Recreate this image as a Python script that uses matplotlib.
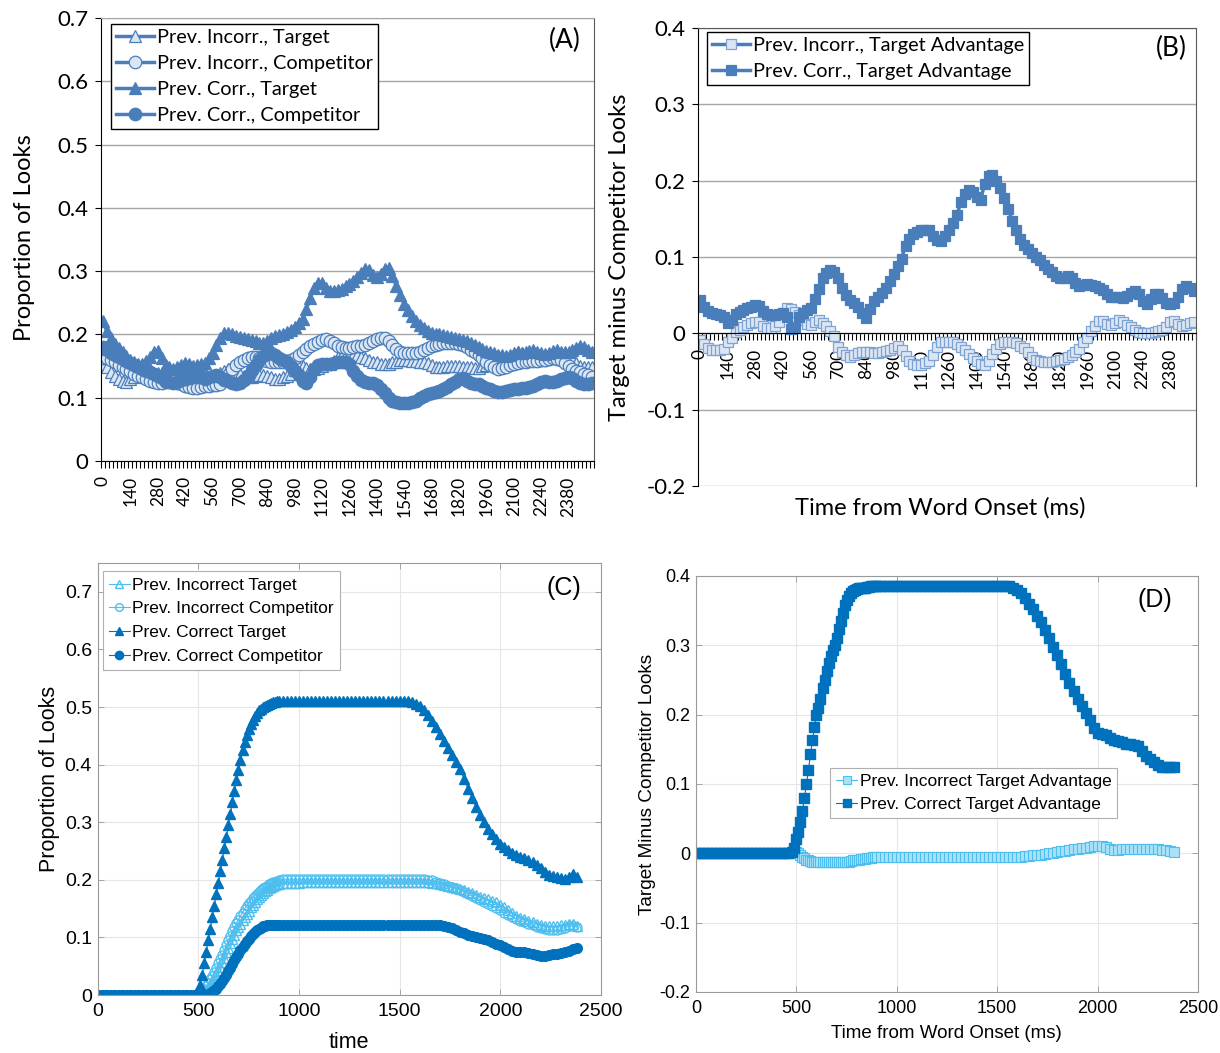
import numpy as np
import matplotlib.pyplot as plt

# ---- data -------------------------------------------------------------
# panels A/B: Excel category axis, one point every 20 ms
t_ab = np.arange(0, 2501, 20)
# panels C/D: model output (finer sampling during the rise)
t_cd = np.concatenate([np.arange(0, 480, 20), np.arange(480, 900, 10),
                       np.arange(900, 2381, 20)])

xlab_ab = list(range(0, 2381, 140))

a_inc_target = [
    0.154, 0.148, 0.141, 0.134, 0.130, 0.126, 0.125, 0.130, 0.132, 0.137,
    0.137, 0.137, 0.138, 0.138, 0.139, 0.139, 0.135, 0.133, 0.133, 0.133,
    0.137, 0.145, 0.150, 0.148, 0.144, 0.141, 0.136, 0.131, 0.131, 0.135,
    0.139, 0.142, 0.145, 0.148, 0.148, 0.138, 0.135, 0.133, 0.133, 0.135,
    0.136, 0.136, 0.134, 0.132, 0.130, 0.130, 0.132, 0.135, 0.138, 0.144,
    0.150, 0.150, 0.147, 0.145, 0.145, 0.147, 0.150, 0.153, 0.154, 0.158,
    0.164, 0.168, 0.168, 0.168, 0.168, 0.167, 0.164, 0.162, 0.159, 0.157,
    0.156, 0.154, 0.153, 0.154, 0.156, 0.157, 0.159, 0.160, 0.159, 0.158,
    0.158, 0.157, 0.157, 0.155, 0.151, 0.149, 0.149, 0.149, 0.150, 0.150,
    0.150, 0.150, 0.149, 0.149, 0.148, 0.147, 0.147, 0.150, 0.151, 0.155,
    0.158, 0.162, 0.163, 0.161, 0.163, 0.167, 0.172, 0.171, 0.168, 0.166,
    0.163, 0.160, 0.160, 0.161, 0.162, 0.164, 0.164, 0.163, 0.163, 0.165,
    0.162, 0.155, 0.150, 0.149, 0.149, 0.148]
a_inc_comp = [
    0.163, 0.162, 0.160, 0.156, 0.152, 0.148, 0.145, 0.142, 0.138, 0.135,
    0.132, 0.129, 0.127, 0.125, 0.124, 0.124, 0.125, 0.126, 0.126, 0.124,
    0.122, 0.119, 0.117, 0.116, 0.116, 0.117, 0.118, 0.119, 0.120, 0.120,
    0.122, 0.128, 0.136, 0.145, 0.152, 0.156, 0.160, 0.162, 0.164, 0.164,
    0.162, 0.160, 0.158, 0.157, 0.156, 0.156, 0.157, 0.158, 0.160, 0.163,
    0.167, 0.172, 0.177, 0.181, 0.185, 0.188, 0.191, 0.192, 0.190, 0.186,
    0.182, 0.180, 0.179, 0.179, 0.180, 0.181, 0.182, 0.184, 0.186, 0.189,
    0.192, 0.194, 0.194, 0.190, 0.183, 0.177, 0.173, 0.171, 0.170, 0.170,
    0.171, 0.173, 0.176, 0.179, 0.182, 0.184, 0.185, 0.186, 0.187, 0.187,
    0.186, 0.185, 0.183, 0.180, 0.176, 0.172, 0.167, 0.162, 0.157, 0.152,
    0.148, 0.146, 0.147, 0.149, 0.152, 0.154, 0.155, 0.156, 0.157, 0.158,
    0.158, 0.158, 0.159, 0.160, 0.161, 0.162, 0.161, 0.159, 0.155, 0.150,
    0.146, 0.143, 0.140, 0.138, 0.136, 0.133]
a_cor_target = [
    0.222, 0.205, 0.194, 0.185, 0.178, 0.173, 0.166, 0.160, 0.156, 0.153,
    0.153, 0.158, 0.165, 0.172, 0.174, 0.163, 0.151, 0.148, 0.146, 0.148,
    0.152, 0.155, 0.153, 0.150, 0.151, 0.153, 0.155, 0.162, 0.171, 0.184,
    0.195, 0.202, 0.203, 0.200, 0.198, 0.196, 0.194, 0.192, 0.191, 0.189,
    0.187, 0.187, 0.190, 0.194, 0.197, 0.199, 0.201, 0.204, 0.207, 0.212,
    0.218, 0.225, 0.240, 0.258, 0.274, 0.282, 0.282, 0.273, 0.268, 0.269,
    0.270, 0.272, 0.276, 0.280, 0.285, 0.290, 0.297, 0.304, 0.302, 0.294,
    0.290, 0.296, 0.304, 0.305, 0.293, 0.276, 0.262, 0.248, 0.238, 0.229,
    0.221, 0.215, 0.210, 0.206, 0.203, 0.201, 0.200, 0.199, 0.198, 0.196,
    0.194, 0.193, 0.191, 0.189, 0.186, 0.183, 0.180, 0.177, 0.174, 0.172,
    0.170, 0.168, 0.167, 0.166, 0.168, 0.171, 0.172, 0.171, 0.172, 0.174,
    0.175, 0.173, 0.170, 0.169, 0.171, 0.174, 0.175, 0.173, 0.172, 0.173,
    0.175, 0.178, 0.181, 0.180, 0.176, 0.172]
a_cor_comp = [
    0.180, 0.175, 0.170, 0.167, 0.164, 0.161, 0.158, 0.155, 0.152, 0.149,
    0.146, 0.143, 0.140, 0.137, 0.134, 0.131, 0.127, 0.125, 0.124, 0.125,
    0.128, 0.130, 0.131, 0.133, 0.133, 0.132, 0.130, 0.132, 0.135, 0.136,
    0.132, 0.129, 0.126, 0.123, 0.122, 0.124, 0.128, 0.135, 0.144, 0.152,
    0.159, 0.166, 0.172, 0.171, 0.167, 0.163, 0.160, 0.156, 0.150, 0.143,
    0.136, 0.126, 0.124, 0.133, 0.145, 0.152, 0.153, 0.154, 0.154, 0.155,
    0.156, 0.157, 0.156, 0.153, 0.142, 0.134, 0.128, 0.125, 0.124, 0.123,
    0.120, 0.114, 0.107, 0.100, 0.095, 0.093, 0.091, 0.091, 0.091, 0.093,
    0.095, 0.099, 0.103, 0.106, 0.108, 0.109, 0.111, 0.114, 0.117, 0.121,
    0.125, 0.129, 0.131, 0.127, 0.123, 0.122, 0.121, 0.119, 0.116, 0.113,
    0.111, 0.109, 0.109, 0.110, 0.112, 0.113, 0.114, 0.115, 0.116, 0.117,
    0.119, 0.122, 0.125, 0.126, 0.125, 0.125, 0.127, 0.130, 0.131, 0.132,
    0.131, 0.127, 0.123, 0.122, 0.122, 0.123]

b_inc_adv = [
    -0.009, -0.014, -0.019, -0.022, -0.022, -0.022, -0.020, -0.012, -0.006, 0.002,
    0.005, 0.008, 0.011, 0.013, 0.015, 0.015, 0.010, 0.007, 0.007, 0.009,
    0.015, 0.026, 0.033, 0.032, 0.028, 0.024, 0.018, 0.012, 0.011, 0.015,
    0.017, 0.014, 0.009, 0.003, -0.004, -0.018, -0.025, -0.029, -0.031, -0.029,
    -0.026, -0.024, -0.024, -0.025, -0.026, -0.026, -0.025, -0.023, -0.022, -0.019,
    -0.017, -0.022, -0.030, -0.036, -0.040, -0.041, -0.041, -0.039, -0.036, -0.028,
    -0.018, -0.012, -0.011, -0.011, -0.012, -0.014, -0.018, -0.022, -0.027, -0.032,
    -0.036, -0.040, -0.041, -0.036, -0.027, -0.020, -0.014, -0.011, -0.011, -0.012,
    -0.013, -0.016, -0.019, -0.024, -0.031, -0.035, -0.036, -0.037, -0.037, -0.037,
    -0.036, -0.035, -0.034, -0.031, -0.028, -0.025, -0.020, -0.012, -0.006, 0.003,
    0.010, 0.016, 0.016, 0.012, 0.011, 0.013, 0.017, 0.015, 0.011, 0.008,
    0.005, 0.002, 0.001, 0.001, 0.001, 0.002, 0.003, 0.004, 0.008, 0.015,
    0.016, 0.012, 0.010, 0.011, 0.013, 0.015]
b_cor_adv = [
    0.044, 0.035, 0.029, 0.026, 0.025, 0.024, 0.022, 0.014, 0.018, 0.025,
    0.028, 0.031, 0.033, 0.035, 0.037, 0.036, 0.029, 0.025, 0.024, 0.024,
    0.025, 0.026, 0.022, 0.006, 0.008, 0.022, 0.027, 0.031, 0.033, 0.045,
    0.058, 0.072, 0.079, 0.083, 0.081, 0.073, 0.060, 0.050, 0.044, 0.040,
    0.035, 0.026, 0.020, 0.032, 0.042, 0.048, 0.053, 0.060, 0.068, 0.078,
    0.088, 0.098, 0.115, 0.124, 0.130, 0.133, 0.135, 0.136, 0.135, 0.128,
    0.122, 0.121, 0.128, 0.135, 0.145, 0.155, 0.172, 0.183, 0.188, 0.185,
    0.178, 0.175, 0.195, 0.206, 0.208, 0.200, 0.190, 0.177, 0.163, 0.147,
    0.135, 0.124, 0.116, 0.110, 0.105, 0.100, 0.096, 0.089, 0.084, 0.080,
    0.075, 0.072, 0.073, 0.075, 0.072, 0.066, 0.062, 0.063, 0.064, 0.063,
    0.062, 0.060, 0.057, 0.051, 0.048, 0.047, 0.047, 0.046, 0.049, 0.053,
    0.055, 0.051, 0.043, 0.039, 0.045, 0.052, 0.051, 0.046, 0.040, 0.039,
    0.040, 0.048, 0.058, 0.062, 0.059, 0.056]

c_inc_target = [
    0, 0, 0, 0, 0, 0, 0, 0, 0, 0, 0, 0, 0, 0, 0, 0, 0, 0, 0, 0, 0, 0, 0, 0,
    0.000, 0.001, 0.002, 0.002, 0.002, 0.005, 0.008, 0.012, 0.017, 0.022,
    0.028, 0.034, 0.042, 0.049, 0.057, 0.065, 0.074, 0.082, 0.090, 0.098,
    0.105, 0.112, 0.118, 0.124, 0.130, 0.136, 0.141, 0.146, 0.152, 0.157,
    0.162, 0.166, 0.170, 0.173, 0.177, 0.180, 0.182, 0.185, 0.187, 0.189,
    0.191, 0.192,
    0.193, 0.195, 0.195, 0.195, 0.195, 0.195,
    0.196, 0.196, 0.196, 0.196, 0.196, 0.196, 0.196, 0.196, 0.196, 0.196,
    0.196, 0.196, 0.196, 0.196, 0.196, 0.196, 0.196, 0.196, 0.196, 0.196,
    0.196, 0.196, 0.196, 0.196, 0.196, 0.196, 0.196, 0.196, 0.196, 0.196, 0.196,
    0.196, 0.195, 0.194, 0.192, 0.191, 0.189, 0.188, 0.186, 0.184, 0.182,
    0.179, 0.177, 0.174, 0.171, 0.169, 0.166, 0.164, 0.161, 0.157, 0.153,
    0.148, 0.142, 0.137, 0.134, 0.132, 0.129, 0.127, 0.124, 0.122, 0.120,
    0.119, 0.119, 0.119, 0.121, 0.122, 0.124, 0.124, 0.120]
c_inc_comp = [
    0, 0, 0, 0, 0, 0, 0, 0, 0, 0, 0, 0, 0, 0, 0, 0, 0, 0, 0, 0, 0, 0, 0, 0,
    0.000, 0.000, 0.000, 0.002, 0.005, 0.010, 0.015, 0.021, 0.027, 0.033,
    0.040, 0.047, 0.055, 0.062, 0.070, 0.078, 0.087, 0.095, 0.103, 0.111,
    0.118, 0.125, 0.131, 0.137, 0.143, 0.149, 0.154, 0.159, 0.164, 0.168,
    0.172, 0.176, 0.179, 0.182, 0.185, 0.188, 0.190, 0.192, 0.194, 0.196,
    0.197, 0.198,
    0.199,
    0.201, 0.201, 0.201, 0.201, 0.201, 0.201, 0.201, 0.201, 0.201, 0.201,
    0.201, 0.201, 0.201, 0.201, 0.201, 0.201, 0.201, 0.201, 0.201, 0.201,
    0.201, 0.201, 0.201, 0.201, 0.201, 0.201, 0.201, 0.201, 0.201, 0.201,
    0.201, 0.201, 0.201, 0.201, 0.201, 0.201,
    0.200, 0.199, 0.197, 0.195, 0.193, 0.190, 0.188, 0.185, 0.182, 0.179,
    0.175, 0.172, 0.168, 0.165, 0.162, 0.158, 0.155, 0.151, 0.147, 0.143,
    0.139, 0.136, 0.132, 0.129, 0.126, 0.123, 0.121, 0.118, 0.116, 0.114,
    0.113, 0.113, 0.113, 0.115, 0.117, 0.119, 0.120, 0.118]
c_cor_target = [
    0, 0, 0, 0, 0, 0, 0, 0, 0, 0, 0, 0, 0, 0, 0, 0, 0, 0, 0, 0, 0, 0, 0, 0,
    0.000, 0.001, 0.005, 0.018, 0.035, 0.055, 0.075, 0.095, 0.115, 0.135,
    0.155, 0.175, 0.195, 0.215, 0.235, 0.255, 0.275, 0.295, 0.315, 0.335,
    0.355, 0.373, 0.390, 0.408, 0.425, 0.440, 0.452, 0.462, 0.470, 0.478,
    0.484, 0.490, 0.494, 0.497, 0.500, 0.502, 0.504, 0.506, 0.507, 0.508,
    0.509, 0.510,
    0.510, 0.510, 0.510, 0.510, 0.510, 0.510, 0.510, 0.510, 0.510, 0.510,
    0.510, 0.510, 0.510, 0.510, 0.510, 0.510, 0.510, 0.510, 0.510, 0.510,
    0.510, 0.510, 0.510, 0.510, 0.510, 0.510, 0.510, 0.510, 0.510, 0.510,
    0.510, 0.510, 0.510,
    0.509, 0.506, 0.501, 0.494, 0.486, 0.476, 0.465, 0.453, 0.441, 0.429,
    0.416, 0.404, 0.392, 0.375, 0.358, 0.342, 0.326, 0.312, 0.300, 0.289,
    0.279, 0.270, 0.263, 0.257, 0.251, 0.247, 0.243, 0.240, 0.237, 0.234,
    0.231, 0.226, 0.220, 0.214, 0.209, 0.206, 0.204, 0.203, 0.202, 0.204,
    0.210, 0.205]
c_cor_comp = [
    0, 0, 0, 0, 0, 0, 0, 0, 0, 0, 0, 0, 0, 0, 0, 0, 0, 0, 0, 0, 0, 0, 0, 0,
    0, 0, 0, 0, 0, 0, 0, 0,
    0.003, 0.005, 0.008, 0.011, 0.015, 0.019, 0.024, 0.029, 0.035, 0.041,
    0.047, 0.053, 0.060, 0.066, 0.072, 0.078, 0.083, 0.088, 0.093, 0.098,
    0.102, 0.106, 0.109, 0.112, 0.115, 0.117, 0.119, 0.120, 0.121, 0.121,
    0.122, 0.122, 0.122, 0.122,
    0.122, 0.122, 0.122, 0.122, 0.122, 0.122, 0.122, 0.122, 0.122, 0.122,
    0.122, 0.122, 0.122, 0.122, 0.122, 0.122, 0.122, 0.122, 0.122, 0.122,
    0.122, 0.122, 0.122, 0.122, 0.122, 0.122, 0.122, 0.122, 0.122, 0.122,
    0.122, 0.122, 0.122, 0.122, 0.122, 0.122, 0.122, 0.122, 0.122, 0.122,
    0.121, 0.120, 0.118, 0.116, 0.113, 0.110, 0.107, 0.105, 0.103, 0.101,
    0.099, 0.097, 0.095, 0.092, 0.089, 0.086, 0.083, 0.079, 0.076, 0.075,
    0.075, 0.074, 0.073, 0.071, 0.069, 0.068, 0.068, 0.070, 0.071, 0.072,
    0.073, 0.074, 0.076, 0.079, 0.082]

d_inc_adv = [
    0, 0, 0, 0, 0, 0, 0, 0, 0, 0, 0, 0, 0, 0, 0, 0, 0, 0, 0, 0, 0, 0, 0, 0,
    0.000, 0.001, 0.002, 0.000, -0.003, -0.005, -0.007, -0.009, -0.010, -0.011,
    -0.012, -0.013, -0.013, -0.013, -0.013, -0.013, -0.013, -0.013, -0.013, -0.013,
    -0.013, -0.013, -0.013, -0.013, -0.013, -0.013, -0.013, -0.013, -0.012, -0.011,
    -0.010, -0.010, -0.009, -0.009, -0.008, -0.008, -0.008, -0.007, -0.007, -0.007,
    -0.006, -0.006,
    -0.006, -0.006, -0.006, -0.006, -0.006, -0.006,
    -0.005, -0.005, -0.005, -0.005, -0.005, -0.005, -0.005, -0.005, -0.005, -0.005,
    -0.005, -0.005, -0.005, -0.005, -0.005, -0.005, -0.005, -0.005, -0.005, -0.005,
    -0.005, -0.005, -0.005, -0.005, -0.005, -0.005, -0.005, -0.005, -0.005, -0.005, -0.005,
    -0.004, -0.004, -0.003, -0.003, -0.002, -0.001, 0.000, 0.001, 0.002, 0.003,
    0.004, 0.005, 0.006, 0.006, 0.007, 0.008, 0.009, 0.010, 0.010, 0.010,
    0.009, 0.006, 0.005, 0.005, 0.006, 0.006, 0.006, 0.006, 0.006, 0.006,
    0.006, 0.006, 0.006, 0.006, 0.005, 0.005, 0.004, 0.002]
d_cor_adv = [
    0, 0, 0, 0, 0, 0, 0, 0, 0, 0, 0, 0, 0, 0, 0, 0, 0, 0, 0, 0, 0, 0, 0, 0,
    0.002, 0.008, 0.020, 0.031, 0.045, 0.061, 0.080, 0.100, 0.120, 0.143,
    0.163, 0.182, 0.200, 0.210, 0.222, 0.238, 0.250, 0.263, 0.275, 0.284,
    0.293, 0.301, 0.310, 0.323, 0.335, 0.347, 0.358, 0.365, 0.371, 0.375,
    0.378, 0.380, 0.381, 0.382, 0.382, 0.383, 0.383, 0.384, 0.384, 0.385,
    0.385, 0.385,
    0.386, 0.386, 0.386, 0.386, 0.386, 0.386, 0.386, 0.386, 0.386, 0.386,
    0.386, 0.386, 0.386, 0.386, 0.386, 0.386, 0.386, 0.386, 0.386, 0.386,
    0.386, 0.386, 0.386, 0.386, 0.386, 0.386, 0.386, 0.386, 0.386, 0.386,
    0.386, 0.386, 0.386,
    0.385, 0.383, 0.380, 0.375, 0.368, 0.360, 0.352, 0.343, 0.333, 0.322,
    0.310, 0.298, 0.286, 0.273, 0.259, 0.246, 0.234, 0.222, 0.212, 0.202,
    0.193, 0.181, 0.174, 0.172, 0.170, 0.167, 0.164, 0.162, 0.160, 0.158,
    0.157, 0.156, 0.155, 0.148, 0.141, 0.136, 0.132, 0.128, 0.125, 0.124,
    0.124, 0.124]

# ---- style ------------------------------------------------------------
XL_BLUE = '#4a7ebb'
XL_LIGHT = '#dce6f2'
ML_DARK = '#0072bd'
ML_LIGHT = '#4dbeee'
XL_FONT = 'Lato'
ML_FONT = 'Liberation Sans'

W, H = 1220, 1053
fig = plt.figure(figsize=(W / 100, H / 100), dpi=100)


def box(l, t, r, b):
    return [l / W, 1 - b / H, (r - l) / W, (b - t) / H]


def ftext(x, y, s, **kw):
    fig.text(x / W, 1 - y / H, s, ha='center', va='center', **kw)


def excel_axes(ax, yticks, ylabels):
    ax.set_xlim(-10, 2510)
    ax.set_ylim(yticks[0], yticks[-1])
    ax.set_yticks(yticks)
    ax.set_yticklabels(ylabels, fontfamily=XL_FONT, fontsize=16)
    ax.yaxis.grid(True, color='#a6a6a6', lw=1.0)
    ax.set_axisbelow(True)
    ax.set_xticks(xlab_ab)
    ax.set_xticklabels([str(v) for v in xlab_ab], rotation=90,
                       fontfamily=XL_FONT, fontsize=12.5, va='top')
    ax.set_xticks(np.arange(-10, 2511, 20), minor=True)
    ax.tick_params(axis='x', which='major', length=0, pad=11)
    ax.tick_params(axis='x', which='minor', length=5, width=0.8, direction='out')
    ax.tick_params(axis='y', length=4, width=0.8, direction='out', pad=5)
    ax.spines['left'].set_color('black')
    ax.spines['bottom'].set_color('black')
    ax.spines['right'].set_color('#595959')
    ax.spines['top'].set_color('#a6a6a6')


def excel_legend(ax, anchor):
    leg = ax.legend(loc='upper left', bbox_to_anchor=anchor, borderaxespad=0,
                    prop={'family': XL_FONT, 'size': 14.3}, fancybox=False,
                    edgecolor='black', framealpha=1, handlelength=1.9,
                    handletextpad=0.15, labelspacing=0.46, borderpad=0.25,
                    numpoints=1)
    leg.get_frame().set_linewidth(1.0)


def matlab_axes(ax, ylim, yticks, ylabels, fs):
    ax.set_xlim(0, 2500)
    ax.set_ylim(*ylim)
    ax.set_xticks([0, 500, 1000, 1500, 2000, 2500])
    ax.set_xticklabels(['0', '500', '1000', '1500', '2000', '2500'],
                       fontfamily=ML_FONT, fontsize=fs)
    ax.set_yticks(yticks)
    ax.set_yticklabels(ylabels, fontfamily=ML_FONT, fontsize=fs)
    ax.grid(True, color='#e6e6e6', lw=0.8)
    ax.set_axisbelow(True)
    ax.tick_params(direction='in', top=True, right=True, length=4,
                   width=0.6, color='#9a9a9a')
    ax.tick_params(axis='x', pad=6)
    ax.tick_params(axis='y', pad=4)
    for sp in ax.spines.values():
        sp.set_color('#9a9a9a')
        sp.set_linewidth(0.8)


def matlab_legend(ax, anchor, spacing):
    leg = ax.legend(loc='upper left', bbox_to_anchor=anchor, borderaxespad=0,
                    prop={'family': ML_FONT, 'size': 12.5}, fancybox=False,
                    edgecolor='#b0b0b0', framealpha=1, handlelength=1.2,
                    handletextpad=0.15, labelspacing=spacing, borderpad=0.35,
                    numpoints=1, markerscale=0.85)
    leg.get_frame().set_linewidth(0.8)


# ---- (A) --------------------------------------------------------------
axA = fig.add_axes(box(101, 18, 594, 461))
kw = dict(color=XL_BLUE, lw=2.5, ms=9, mew=0.9, mec=XL_BLUE)
axA.plot(t_ab, a_inc_target, marker='^', mfc=XL_LIGHT, label='Prev. Incorr., Target', **kw)
axA.plot(t_ab, a_inc_comp, marker='o', mfc=XL_LIGHT, label='Prev. Incorr., Competitor', **kw)
axA.plot(t_ab, a_cor_target, marker='^', mfc=XL_BLUE, label='Prev. Corr., Target', **kw)
axA.plot(t_ab, a_cor_comp, marker='o', mfc=XL_BLUE, label='Prev. Corr., Competitor', **kw)
excel_axes(axA, [0, 0.1, 0.2, 0.3, 0.4, 0.5, 0.6, 0.7],
           ['0', '0.1', '0.2', '0.3', '0.4', '0.5', '0.6', '0.7'])
excel_legend(axA, (0.02, 0.9865))
axA.text(0.941, 0.95, '(A)', transform=axA.transAxes, ha='center', va='center',
         fontfamily=XL_FONT, fontsize=19)
ftext(25, 238, 'Proportion of Looks', rotation=90, fontfamily=XL_FONT, fontsize=17)

# ---- (B) --------------------------------------------------------------
axB = fig.add_axes(box(698, 28, 1196, 486))
axB.spines['bottom'].set_position(('data', 0))
kwb = dict(color=XL_BLUE, lw=2.5, ms=7.5, mew=0.9)
axB.plot(t_ab, b_inc_adv, marker='s', mfc=XL_LIGHT, mec='#7ea3d3',
         label='Prev. Incorr., Target Advantage', **kwb)
axB.plot(t_ab, b_cor_adv, marker='s', mfc=XL_BLUE, mec=XL_BLUE,
         label='Prev. Corr., Target Advantage', **kwb)
excel_axes(axB, [-0.2, -0.1, 0, 0.1, 0.2, 0.3, 0.4],
           ['-0.2', '-0.1', '0', '0.1', '0.2', '0.3', '0.4'])
axB.spines['top'].set_color('#595959')
excel_legend(axB, (0.018, 0.991))
axB.text(0.95, 0.956, '(B)', transform=axB.transAxes, ha='center', va='center',
         fontfamily=XL_FONT, fontsize=19)
ftext(619, 257, 'Target minus Competitor Looks', rotation=90,
      fontfamily=XL_FONT, fontsize=17)
ftext(940, 508, 'Time from Word Onset (ms)', fontfamily=XL_FONT, fontsize=17)

# ---- (C) --------------------------------------------------------------
axC = fig.add_axes(box(97.5, 563, 601, 995))
axC.plot(t_cd, c_inc_target, marker='^', color=ML_LIGHT, mfc='none', ms=7, mew=1.0,
         lw=0.8, label='Prev. Incorrect Target')
axC.plot(t_cd, c_inc_comp, marker='o', color=ML_LIGHT, mfc='none', ms=6.5, mew=1.0,
         lw=0.8, label='Prev. Incorrect Competitor')
axC.plot(t_cd, c_cor_target, marker='^', color=ML_DARK, mfc=ML_DARK, ms=7.5,
         lw=0.8, label='Prev. Correct Target')
axC.plot(t_cd, c_cor_comp, marker='o', color=ML_DARK, mfc=ML_DARK, ms=7,
         lw=0.8, label='Prev. Correct Competitor')
matlab_axes(axC, (0, 0.75), [0, 0.1, 0.2, 0.3, 0.4, 0.5, 0.6, 0.7],
            ['0', '0.1', '0.2', '0.3', '0.4', '0.5', '0.6', '0.7'], 14)
matlab_legend(axC, (0.0105, 0.9805), 0.5)
axC.text(0.9265, 0.943, '(C)', transform=axC.transAxes, ha='center', va='center',
         fontfamily=ML_FONT, fontsize=18)
ftext(50, 779, 'Proportion of Looks', rotation=90, fontfamily=ML_FONT, fontsize=15.5)
ftext(349, 1042, 'time', fontfamily=ML_FONT, fontsize=15.5)

# ---- (D) --------------------------------------------------------------
axD = fig.add_axes(box(696, 576, 1198, 992))
axD.plot(t_cd, d_inc_adv, marker='s', color=ML_LIGHT, mfc='#a9e1f7', mec=ML_LIGHT,
         ms=7, mew=0.8, lw=0.8, label='Prev. Incorrect Target Advantage')
axD.plot(t_cd, d_cor_adv, marker='s', color=ML_DARK, mfc=ML_DARK, mec=ML_DARK,
         ms=7, lw=0.8, label='Prev. Correct Target Advantage')
matlab_axes(axD, (-0.2, 0.4), [-0.2, -0.1, 0, 0.1, 0.2, 0.3, 0.4],
            ['-0.2', '-0.1', '0', '0.1', '0.2', '0.3', '0.4'], 13)
matlab_legend(axD, (0.267, 0.538), 0.45)
axD.text(0.914, 0.942, '(D)', transform=axD.transAxes, ha='center', va='center',
         fontfamily=ML_FONT, fontsize=18)
ftext(647, 784, 'Target Minus Competitor Looks', rotation=90,
      fontfamily=ML_FONT, fontsize=13.7)
ftext(946, 1033, 'Time from Word Onset (ms)', fontfamily=ML_FONT, fontsize=13.5)

fig.savefig('out.png', dpi=100)
